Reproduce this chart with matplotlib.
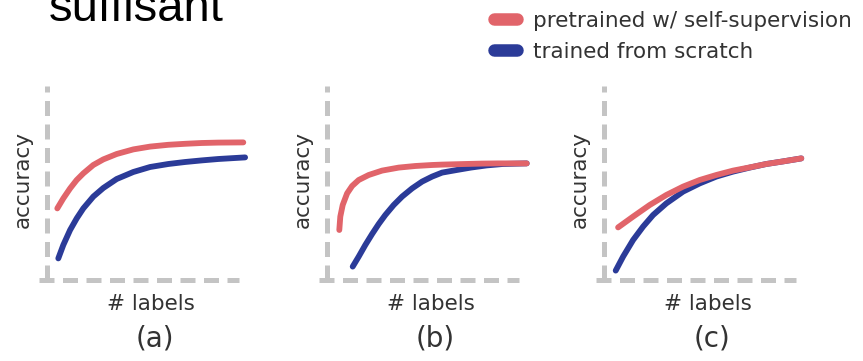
import matplotlib
matplotlib.use("Agg")
import matplotlib.pyplot as plt
from matplotlib.lines import Line2D

# curve samples per panel: (# labels, accuracy) in arbitrary units 0..100
a_ssl_x = [5.3, 8.3, 11.7, 15.0, 18.3, 23.3, 28.3, 35.0, 43.3, 51.7, 60.8, 69.2, 77.5, 85.8, 98.3]
a_ssl_y = [35.8, 40.8, 45.8, 50.0, 53.3, 57.5, 60.3, 63.0, 65.3, 66.7, 67.6, 68.1, 68.5, 68.7, 68.8]
a_scr_x = [5.8, 8.3, 11.7, 15.0, 18.3, 23.3, 28.3, 35.0, 43.3, 51.7, 60.8, 69.2, 77.5, 85.8, 99.2]
a_scr_y = [10.8, 17.5, 25.0, 30.8, 35.8, 41.7, 46.0, 50.5, 54.0, 56.5, 58.0, 59.0, 59.8, 60.5, 61.3]

b_ssl_x = [6.3, 6.8, 8.0, 10.2, 12.7, 16.0, 21.0, 27.7, 36.0, 44.3, 52.7, 57.7, 69.2, 77.5, 85.8, 100.0]
b_ssl_y = [25.0, 31.7, 37.5, 43.3, 47.0, 50.0, 52.5, 54.7, 56.2, 57.0, 57.5, 57.7, 58.0, 58.2, 58.3, 58.3]
b_scr_x = [13.0, 16.0, 19.3, 22.7, 26.0, 29.3, 33.5, 37.7, 42.7, 47.7, 52.7, 57.7, 65.0, 72.0, 80.0, 88.0, 100.0]
b_scr_y = [6.7, 11.7, 17.5, 23.0, 28.0, 32.5, 37.5, 41.7, 45.8, 49.2, 51.7, 53.7, 55.0, 56.2, 57.3, 58.0, 58.3]

c_ssl_x = [7.2, 14.7, 23.0, 31.3, 39.7, 48.0, 56.3, 64.7, 73.0, 81.3, 89.7, 98.8]
c_ssl_y = [26.3, 31.7, 37.5, 42.5, 46.7, 50.0, 52.5, 54.7, 56.3, 58.0, 59.3, 60.8]
c_scr_x = [6.0, 9.7, 14.7, 19.7, 24.7, 31.3, 39.7, 48.0, 56.3, 64.7, 73.0, 81.3, 89.7, 98.8]
c_scr_y = [4.7, 11.7, 20.0, 26.7, 32.5, 38.3, 44.2, 48.3, 51.7, 54.2, 56.2, 58.0, 59.3, 60.8]

panels = [
    ("(a)", a_ssl_x, a_ssl_y, a_scr_x, a_scr_y),
    ("(b)", b_ssl_x, b_ssl_y, b_scr_x, b_scr_y),
    ("(c)", c_ssl_x, c_ssl_y, c_scr_x, c_scr_y),
]
labels = ["pretrained w/ self-supervision", "trained from scratch"]

RED = "#e1646a"
BLUE = "#2b3b98"
GRAY = "#c4c4c4"
TXT = "#333333"

W, H = 863, 361
fig = plt.figure(figsize=(W / 100, H / 100), dpi=100)

# axes origin (pixel) for each panel, 1 data unit = 2 px
origins = [46.7, 326.7, 603.7]
for ox, (cap, sx, sy, tx, ty) in zip(origins, panels):
    ax = fig.add_axes([ox / W, (H - 280) / H, 200 / W, 200 / H])
    ax.set_xlim(0, 100)
    ax.set_ylim(0, 100)
    ax.patch.set_alpha(0)
    for side in ("top", "right"):
        ax.spines[side].set_visible(False)
    for side in ("left", "bottom"):
        sp = ax.spines[side]
        sp.set_color(GRAY)
        sp.set_linewidth(3.6)
        sp.set_linestyle((0, (3.0, 1.7)))
        sp.set_capstyle("butt")
    ax.spines["bottom"].set_bounds(-4, 96)
    ax.spines["left"].set_bounds(0, 97)
    ax.set_xticks([])
    ax.set_yticks([])

    ax.plot(tx, ty, color=BLUE, lw=4.2, solid_capstyle="round",
            solid_joinstyle="round", clip_on=False)
    ax.plot(sx, sy, color=RED, lw=4.2, solid_capstyle="round",
            solid_joinstyle="round", clip_on=False)

    ax.text(-0.12, 0.5, "accuracy", transform=ax.transAxes, rotation=90,
            ha="center", va="center", fontsize=15.5, color=TXT)
    ax.text(0.52, -0.15, "# labels", transform=ax.transAxes,
            ha="center", va="baseline", fontsize=15.5, color=TXT)
    ax.text(0.54, -0.335, cap, transform=ax.transAxes,
            ha="center", va="baseline", fontsize=20, color=TXT)

handles = [Line2D([], [], color=RED, lw=9, solid_capstyle="round"),
           Line2D([], [], color=BLUE, lw=9, solid_capstyle="round")]
leg = fig.legend(handles, labels, loc="upper left",
                 bbox_to_anchor=(494 / W, 1 - 11 / H),
                 frameon=False, fontsize=15.5, borderpad=0, borderaxespad=0,
                 handlelength=1.06, handletextpad=0.74, labelspacing=0.5)
for t in leg.get_texts():
    t.set_color(TXT)

fig.text(48.5 / W, 1 - 21 / H, "suffisant", fontsize=34,
         family="Liberation Sans", color="black", va="baseline", ha="left")

fig.savefig("out.png", dpi=100)
